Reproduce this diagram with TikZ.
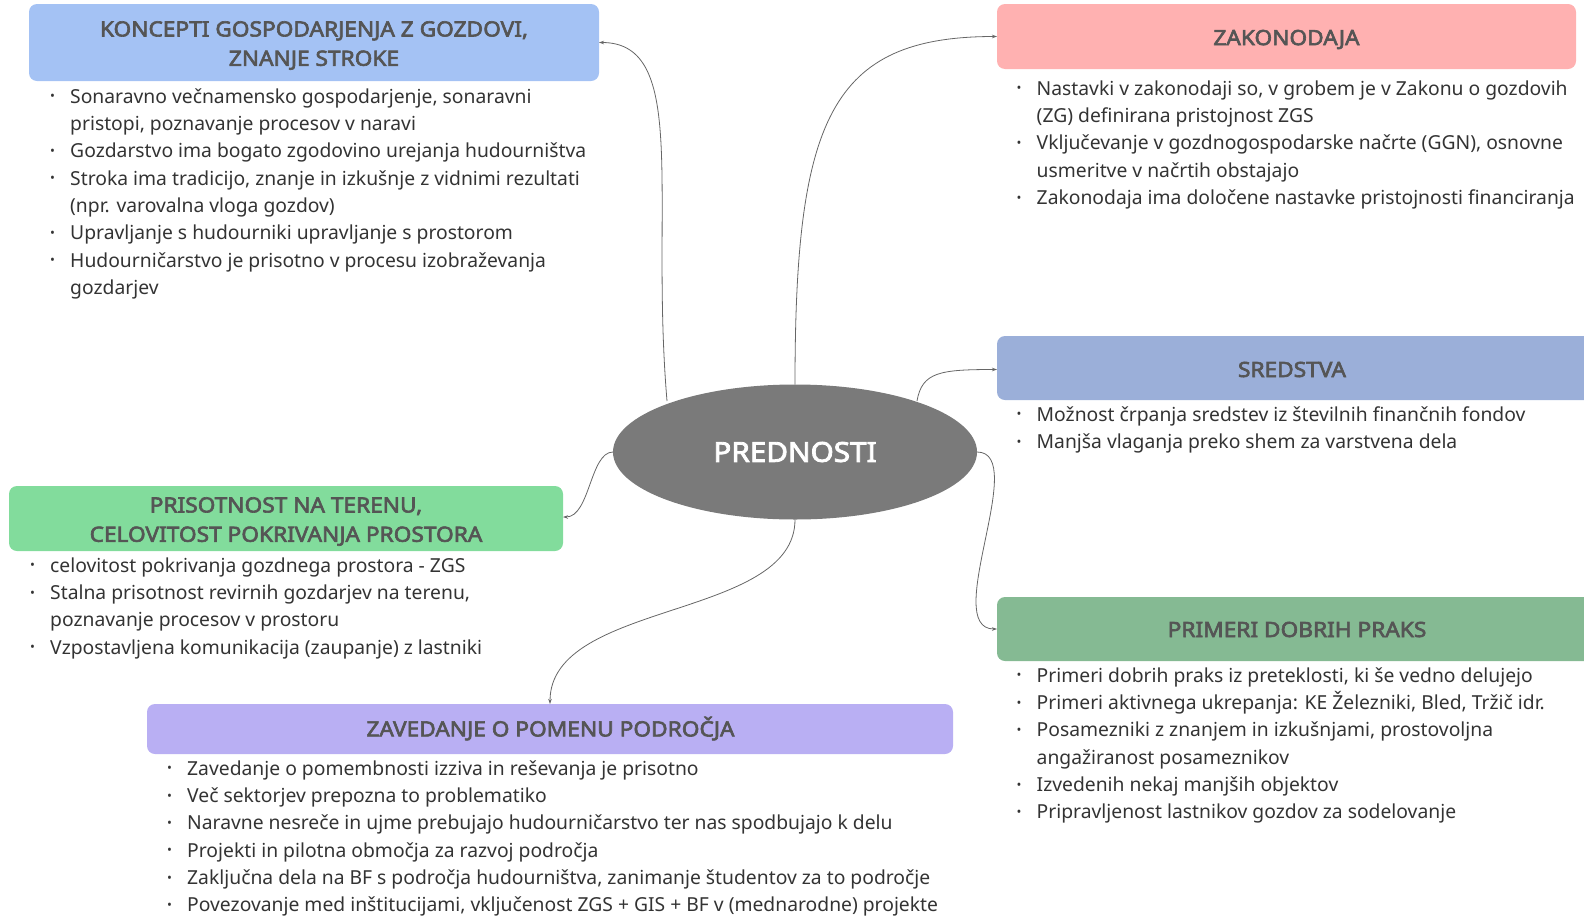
\documentclass[tikz,border=0pt]{standalone}
\usepackage{fontspec}
\setmainfont{Noto Sans}
\newfontfamily\ttlfont{Noto Sans}[FakeBold=3,FakeStretch=1.08]
\usetikzlibrary{arrows.meta}
\definecolor{cK}{HTML}{A4C2F4}
\definecolor{cZ}{HTML}{FFB1B1}
\definecolor{cS}{HTML}{9BAFD9}
\definecolor{cP}{HTML}{85BA93}
\definecolor{cR}{HTML}{82DC9C}
\definecolor{cV}{HTML}{B9AFF3}
\definecolor{cE}{HTML}{7A7A7A}
\definecolor{tTitle}{HTML}{555555}
\definecolor{tText}{HTML}{333333}
\definecolor{cLine}{HTML}{666666}
\newcommand{\bi}{\makebox[20pt][l]{\raisebox{2.5pt}{\fontsize{13}{13}\selectfont •}}}
\newcommand{\ci}{\hspace*{20pt}}
\newcommand{\fs}{\rule{0pt}{21pt}}
\tikzset{
  ttl/.style={font=\ttlfont\fontsize{21}{29.3}\selectfont, text=tTitle, align=center, inner sep=0pt},
  items/.style={font=\fontsize{19.3}{27.35}\selectfont, text=tText, align=left, inner sep=0pt, anchor=north west},
  conn/.style={draw=cLine, line width=0.8pt, -{Stealth[length=5pt,width=3.5pt]}}
}
\begin{document}
\begin{tikzpicture}[x=1pt,y=-1pt]
\useasboundingbox (0,0) rectangle (1584,916);
\begin{scope}
\clip (0,0) rectangle (1584,916);
\fill[cK, rounded corners=8pt] (29,4) rectangle (599,81);
\fill[cZ, rounded corners=8pt] (997,4) rectangle (1576,69);
\fill[cS, rounded corners=8pt] (997,336) rectangle (1600,400);
\fill[cP, rounded corners=8pt] (997,597) rectangle (1600,661);
\fill[cR, rounded corners=8pt] (9,486) rectangle (563,551);
\fill[cV, rounded corners=8pt] (147,704) rectangle (953,754);
\end{scope}
\coordinate (Kin) at (599,42.5);
\coordinate (Zin) at (997,36.5);
\coordinate (Sin) at (997,369.5);
\coordinate (Pin) at (997,629);
\coordinate (Rin) at (563,517);
\coordinate (Vin) at (550,704);
\node[ttl] (tK) at (314,45.5) {KONCEPTI GOSPODARJENJA Z GOZDOVI,\\ZNANJE STROKE};
\node[ttl] (tZ) at (1286.5,39.5) {ZAKONODAJA};
\node[ttl] (tS) at (1292,369.5) {SREDSTVA};
\node[ttl] (tP) at (1297,629.5) {PRIMERI DOBRIH PRAKS};
\node[ttl] (tR) at (286,521.5) {PRISOTNOST NA TERENU,\\CELOVITOST POKRIVANJA PROSTORA};
\node[ttl] (tV) at (550.5,728.5) {ZAVEDANJE O POMENU PODROČJA};
\fill[cE] (795,452) ellipse [x radius=182, y radius=67.5];
\node[font=\ttlfont\fontsize{27.5}{30}\selectfont, text=white, inner sep=0pt] (E) at (795,452) {PREDNOSTI};
\coordinate (eK) at (667,401);
\coordinate (eZ) at (795,384.5);
\coordinate (eS) at (917,401);
\coordinate (eP) at (977,452);
\coordinate (eR) at (613,452);
\coordinate (eV) at (795,519.5);
\draw[conn] (eK) .. controls (650,200) and (690,42.5) .. (Kin);
\draw[conn] (eZ) .. controls (795,120) and (830,36.5) .. (Zin);
\draw[conn] (eS) .. controls (922,372) and (940,369.5) .. (Sin);
\draw[conn] (eP) .. controls (1030,452) and (940,629) .. (Pin);
\draw[conn] (eR) .. controls (590,452) and (590,517) .. (Rin);
\draw[conn] (eV) .. controls (795,620) and (550,600) .. (Vin);
\node[items] (lK) at (50,82) {\fs\bi Sonaravno večnamensko gospodarjenje, sonaravni\\
\ci pristopi, poznavanje procesov v naravi\\
\bi Gozdarstvo ima bogato zgodovino urejanja hudourništva\\
\bi Stroka ima tradicijo, znanje in izkušnje z vidnimi rezultati\\
\ci (npr. varovalna vloga gozdov)\\
\bi Upravljanje s hudourniki upravljanje s prostorom\\
\bi Hudourničarstvo je prisotno v procesu izobraževanja\\
\ci gozdarjev};
\node[items] (lZ) at (1016.5,74) {\fs\bi Nastavki v zakonodaji so, v grobem je v Zakonu o gozdovih\\
\ci (ZG) definirana pristojnost ZGS\\
\bi Vključevanje v gozdnogospodarske načrte (GGN), osnovne\\
\ci usmeritve v načrtih obstajajo\\
\bi Zakonodaja ima določene nastavke pristojnosti financiranja};
\node[items] (lS) at (1016.5,400) {\fs\bi Možnost črpanja sredstev iz številnih finančnih fondov\\
\bi Manjša vlaganja preko shem za varstvena dela};
\node[items] (lP) at (1016.5,661) {\fs\bi Primeri dobrih praks iz preteklosti, ki še vedno delujejo\\
\bi Primeri aktivnega ukrepanja: KE Železniki, Bled, Tržič idr.\\
\bi Posamezniki z znanjem in izkušnjami, prostovoljna\\
\ci angažiranost posameznikov\\
\bi Izvedenih nekaj manjših objektov\\
\bi Pripravljenost lastnikov gozdov za sodelovanje};
\node[items] (lR) at (30,551) {\fs\bi celovitost pokrivanja gozdnega prostora - ZGS\\
\bi Stalna prisotnost revirnih gozdarjev na terenu,\\
\ci poznavanje procesov v prostoru\\
\bi Vzpostavljena komunikacija (zaupanje) z lastniki};
\node[items] (lV) at (167,754) {\fs\bi Zavedanje o pomembnosti izziva in reševanja je prisotno\\
\bi Več sektorjev prepozna to problematiko\\
\bi Naravne nesreče in ujme prebujajo hudourničarstvo ter nas spodbujajo k delu\\
\bi Projekti in pilotna območja za razvoj področja\\
\bi Zaključna dela na BF s področja hudourništva, zanimanje študentov za to področje\\
\bi Povezovanje med inštitucijami, vključenost ZGS + GIS + BF v (mednarodne) projekte};
\end{tikzpicture}
\end{document}
